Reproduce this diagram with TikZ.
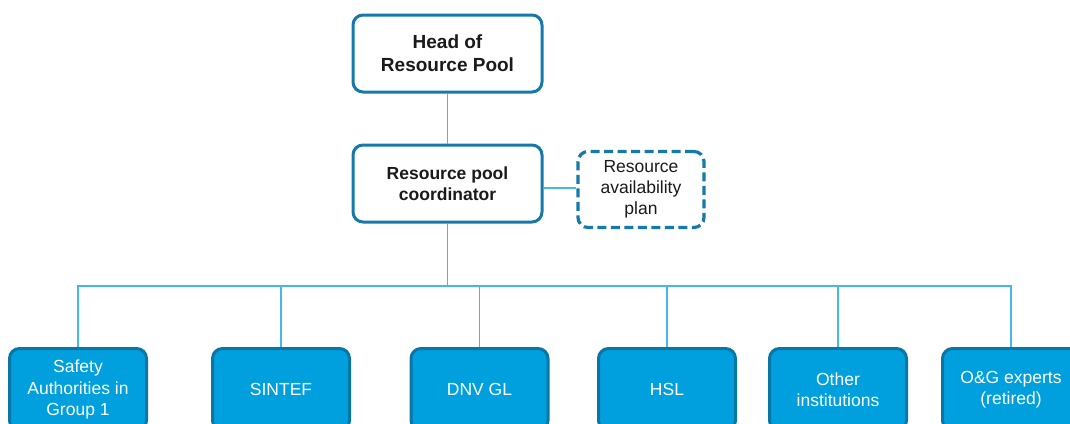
\documentclass[tikz,border=0pt]{standalone}
\usepackage{fontspec}
\setmainfont{Liberation Sans}
\definecolor{topborder}{HTML}{1579AB}
\definecolor{botfill}{HTML}{00A0DE}
\definecolor{botborder}{HTML}{0A76A6}
\definecolor{link}{HTML}{45B8E6}
\definecolor{txt}{HTML}{1A1A1A}
\tikzset{
  topbox/.style={draw=topborder, line width=3pt, rounded corners=10pt, fill=white,
    minimum width=189pt, minimum height=77pt, align=center, text=txt,
    font=\fontsize{17.5}{20.5}\selectfont\bfseries, inner sep=0pt},
  planbox/.style={draw=topborder, line width=3.2pt, rounded corners=10pt, fill=white,
    dash pattern=on 9pt off 4.5pt,
    minimum width=126pt, minimum height=76pt, align=center, text=txt,
    font=\fontsize{17.5}{21}\selectfont, inner sep=0pt},
  botbox/.style={draw=botborder, line width=3pt, rounded corners=10pt, fill=botfill,
    minimum width=137pt, minimum height=82pt, align=center, text=white,
    font=\fontsize{17.5}{21.5}\selectfont, inner sep=0pt},
  link/.style={draw=link, line width=1.5pt}
}
\begin{document}
\begin{tikzpicture}[x=1pt,y=1pt]
\useasboundingbox (0,0) rectangle (1070,-423);
\clip (0,0) rectangle (1070,-423);
\node[topbox, font=\fontsize{19}{23}\selectfont\bfseries] (head) at (447.5,-53.5) {Head of\\Resource Pool};
\node[topbox] (coord) at (447.5,-183.5) {Resource pool\\coordinator};
\node[planbox] (plan) at (641,-189.5) {Resource\\availability\\plan};
\node[botbox] (b1) at (78,-389.5) {Safety\\Authorities in\\Group 1};
\node[botbox] (b2) at (281,-389.5) {SINTEF};
\node[botbox] (b3) at (479.5,-389.5) {DNV GL};
\node[botbox] (b4) at (667,-389.5) {HSL};
\node[botbox] (b5) at (838,-389.5) {Other\\institutions};
\node[botbox] (b6) at (1011,-389.5) {O\&G experts\\(retired)};
\coordinate (bus) at (447.5,-286);
\draw[link] (head.south) -- (coord.north);
\draw[link] (coord.east |- 0,-188) -- (plan.west |- 0,-188);
\draw[link] (coord.south) -- (bus);
\draw[link] (b1.north) |- (bus) -| (b6.north);
\foreach \b in {b2,b3,b4,b5} \draw[link] (\b.north) -- (\b.north |- bus);
\end{tikzpicture}
\end{document}
